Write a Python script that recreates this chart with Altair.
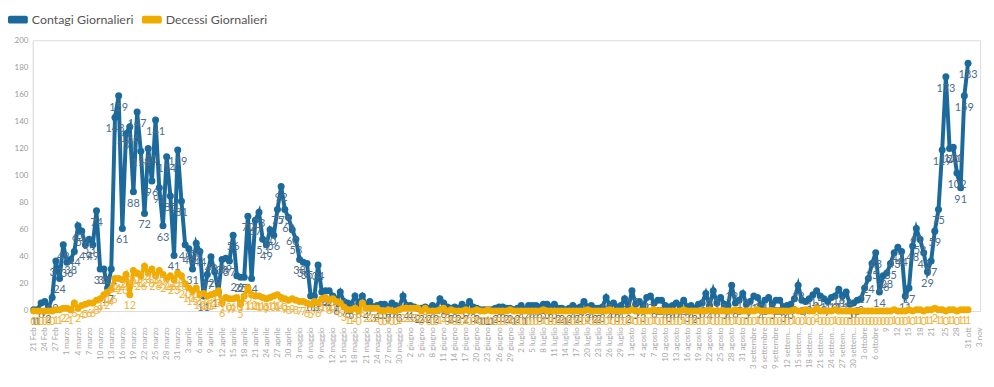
import datetime as dt
import altair as alt
import pandas as pd

# ---------------- data ----------------
start_date = dt.date(2020, 2, 21)

contagi = [
    1, 1, 6, 7, 2,
    10, 37, 24, 49, 36, 38, 44, 63, 59, 49, 53, 49, 74,
    31, 31, 17, 31,
    143, 159, 61, 131, 136, 88, 147, 118, 72, 120, 96, 141, 91, 63, 114, 85, 41, 119, 81, 49, 46, 31, 50, 44,
    11, 27, 40, 29, 14, 38, 39, 37, 56, 26, 25, 25,
    70, 24, 67, 73, 53, 49, 60, 56, 75, 92, 75, 69, 60, 53, 38, 36, 35, 11, 11, 34, 14, 15, 15, 11, 8, 14,
    7, 6, 5, 11, 6, 11, 4, 7, 3, 4, 5, 5, 3, 6, 4, 3, 11, 4, 4, 3,
    2, 2, 3, 2, 4, 2, 9, 6, 3, 2, 3, 2, 5, 2, 7, 3, 2, 1, 1, 1,
    1, 2, 3, 3, 2, 2, 1, 2, 4, 1, 4, 4, 4, 3, 5,
    5, 3, 5, 2, 2, 1, 2, 4, 2, 3, 7, 3, 4, 2, 2, 3, 10, 4, 6, 3,
    4, 9, 2, 15, 5, 7, 3, 10, 11, 6, 8, 8, 4, 3, 4, 6, 4, 8, 3, 4,
    2, 5, 6, 13, 4, 15, 6, 10, 5, 4, 19, 6, 8, 13, 5, 7, 11, 10, 4, 8,
    10, 5, 8, 8, 3, 4, 5,
    9, 19, 8, 7, 9, 12, 15, 11, 9, 7, 10, 11, 16, 11, 14, 5, 6, 8, 9,
    17, 24, 35, 43, 14, 26, 28, 35, 43, 47, 44, 11, 17, 48, 61, 53, 43, 29, 37, 59,
    75, 119, 173, 120, 121, 102, 91, 159, 183,
]

decessi = [
    0, 0, 0, 0, 0, 0, 1, 1, 2, 2, 1, 6, 2, 4, 5, 6, 6, 8, 9, 12, 14, 16,
    24, 24, 23, 27, 12, 30, 28, 26, 33, 28, 31, 26, 30, 27, 24, 26, 23, 28, 26, 20,
    17, 15, 17, 12, 13, 11, 12, 13, 15,
    6, 10, 9, 9, 10, 5, 11, 17, 12, 11, 11, 10, 9, 10, 11, 12, 10, 9, 8, 9,
    8, 7, 7, 6, 5, 7, 6, 9, 10, 8, 9, 7, 6,
    3, 1, 1, 2, 0, 6, 2, 2, 2, 2, 0, 0, 1, 0, 0, 1, 2, 2, 2, 2,
    2, 0, 2, 0, 0, 0, 1, 2, 0, 1, 0, 0, 0, 1, 0, 0, 1,
    0, 0, 1, 0, 0, 0, 0, 0, 1, 0,
    0, 0, 0, 0, 0, 0, 0, 1, 0, 0,
    0, 0, 0, 0, 0, 0, 0, 0, 0, 1,
    0, 0, 0, 0, 0, 1, 0, 0, 0, 0,
    0, 1, 0, 0, 0, 0, 0, 1, 0, 0,
    0, 0, 0, 0, 0, 1, 0, 0, 0, 0,
    0, 0, 1, 0, 0, 0, 0, 0, 0, 1,
    0, 0, 0, 0, 0, 1, 0, 0, 0, 0,
    0, 0, 0, 0, 0, 1, 0, 0, 1, 0,
    0, 2, 0, 0, 0, 0, 1, 0, 0, 0,
    0, 0, 0, 0, 0, 0, 0, 0, 0, 0,
    0, 0, 1, 0, 0, 0, 1, 0, 1, 1,
    0, 1, 1, 2, 1, 1, 0, 1, 1, 0,
    1, 1, 1,
]

series_names = ["Contagi Giornalieri", "Decessi Giornalieri"]
series_colors = ["#1c6a9b", "#f0ab00"]

tick_dates = [
    "2020/02/21", "2020/02/24", "2020/02/27",
    "2020/03/01", "2020/03/04", "2020/03/07", "2020/03/10", "2020/03/13", "2020/03/16",
    "2020/03/19", "2020/03/22", "2020/03/25", "2020/03/28", "2020/03/31",
    "2020/04/03", "2020/04/06", "2020/04/09", "2020/04/12", "2020/04/15", "2020/04/18",
    "2020/04/21", "2020/04/24", "2020/04/27", "2020/04/30",
    "2020/05/03", "2020/05/06", "2020/05/09", "2020/05/12", "2020/05/15", "2020/05/18",
    "2020/05/21", "2020/05/24", "2020/05/27", "2020/05/30",
    "2020/06/02", "2020/06/05", "2020/06/08", "2020/06/11", "2020/06/14", "2020/06/17",
    "2020/06/20", "2020/06/23", "2020/06/26", "2020/06/29",
    "2020/07/02", "2020/07/05", "2020/07/08", "2020/07/11", "2020/07/14", "2020/07/17",
    "2020/07/20", "2020/07/23", "2020/07/26", "2020/07/29",
    "2020/08/01", "2020/08/04", "2020/08/07", "2020/08/10", "2020/08/13", "2020/08/16",
    "2020/08/19", "2020/08/22", "2020/08/25", "2020/08/28", "2020/08/31",
    "2020/09/03", "2020/09/06", "2020/09/09", "2020/09/12", "2020/09/15", "2020/09/18",
    "2020/09/21", "2020/09/24", "2020/09/27", "2020/09/30",
    "2020/10/03", "2020/10/06", "2020/10/09", "2020/10/12", "2020/10/15", "2020/10/18",
    "2020/10/21", "2020/10/25", "2020/10/28", "2020/10/31", "2020/11/03",
]
tick_labels = [
    "21 Feb", "24 Feb", "27 Feb",
    "1 marzo", "4 marzo", "7 marzo", "10 marzo", "13 marzo", "16 marzo",
    "19 marzo", "22 marzo", "25 marzo", "28 marzo", "31 marzo",
    "3 aprile", "6 aprile", "9 aprile", "12 aprile", "15 aprile", "18 aprile",
    "21 aprile", "24 aprile", "27 aprile", "30 aprile",
    "3 maggio", "6 maggio", "9 maggio", "12 maggio", "15 maggio", "18 maggio",
    "21 maggio", "24 maggio", "27 maggio", "30 maggio",
    "2 giugno", "5 giugno", "8 giugno", "11 giugno", "14 giugno", "17 giugno",
    "20 giugno", "23 giugno", "26 giugno", "29 giugno",
    "2 luglio", "5 luglio", "8 luglio", "11 luglio", "14 luglio", "17 luglio",
    "20 luglio", "23 luglio", "26 luglio", "29 luglio",
    "1 agosto", "4 agosto", "7 agosto", "10 agosto", "13 agosto", "16 agosto",
    "19 agosto", "22 agosto", "25 agosto", "28 agosto", "31 agosto",
    "3 settembre", "6 settembre", "9 settembre", "12 settembre", "15 settembre", "18 settembre",
    "21 settembre", "24 settembre", "27 settembre", "30 settembre",
    "3 ottobre", "6 ottobre", "9", "12", "15", "18",
    "21", "25", "28", "31 ott", "3 nov",
]

y_ticks = [0, 20, 40, 60, 80, 100, 120, 140, 160, 180, 200]

# ---------------- table ----------------
dates = [(start_date + dt.timedelta(days=i)).strftime("%Y/%m/%d") for i in range(len(contagi))]
df = pd.DataFrame({"data": dates, series_names[0]: contagi, series_names[1]: decessi})


def to_dt(s):
    y, m, d = (int(p) for p in s.split("/"))
    return alt.DateTime(year=y, month=m, date=d)


label_expr = (
    "[" + ",".join("'" + l + "'" for l in tick_labels) + "]"
    "[indexof([" + ",".join("'" + d + "'" for d in tick_dates) + "], timeFormat(datum.value, '%Y/%m/%d'))]"
)

x_enc = alt.X(
    "data:T",
    title=None,
    scale=alt.Scale(
        domain=[
            alt.DateTime(year=2020, month=2, date=20, hours=18),
            alt.DateTime(year=2020, month=11, date=3, hours=6),
        ]
    ),
    axis=alt.Axis(
        values=[to_dt(d) for d in tick_dates],
        labelExpr=label_expr,
        labelAngle=270,
        labelFontSize=8,
        labelColor="#a8a8a8",
        labelPadding=16,
        labelLimit=44,
        labelOverlap=False,
        labelFlush=False,
        ticks=False,
        domain=False,
        grid=False,
    ),
)
y_enc = alt.Y(
    "valore:Q",
    title=None,
    scale=alt.Scale(domain=[0, 200], nice=False),
    axis=alt.Axis(
        values=y_ticks,
        labelFontSize=8,
        labelColor="#9a9a9a",
        labelPadding=5,
        ticks=False,
        domain=True,
        domainColor="#e4e4e4",
        grid=False,
    ),
)

legend_shape = (
    "M-0.8,-0.4L0.8,-0.4A0.2,0.2 0 0 1 1,-0.2L1,0.2A0.2,0.2 0 0 1 0.8,0.4"
    "L-0.8,0.4A0.2,0.2 0 0 1 -1,0.2L-1,-0.2A0.2,0.2 0 0 1 -0.8,-0.4Z"
)
color_scale = alt.Scale(domain=series_names, range=series_colors)
legend = alt.Legend(
    title=None,
    orient="none",
    legendX=-25,
    legendY=-31,
    direction="horizontal",
    symbolType=legend_shape,
    symbolSize=400,
    symbolStrokeWidth=0,
    labelFontSize=12.5,
    labelColor="#555555",
    labelFont="Lato",
    labelOffset=4,
    columnPadding=8,
)

base = alt.Chart(df).transform_fold(series_names, as_=["serie", "valore"])


def series_layers(name, color, label_color, label_dy):
    sub = base.transform_filter(alt.datum.serie == name)
    line = sub.mark_line(strokeWidth=4, color=color).encode(x=x_enc, y=y_enc)
    pts = sub.mark_circle(size=50, opacity=1).encode(
        x=x_enc,
        y=y_enc,
        color=alt.Color("serie:N", scale=color_scale, legend=legend),
    )
    txt = sub.mark_text(
        dy=label_dy, fontSize=11, font="Lato", color=label_color, baseline="middle"
    ).encode(x=x_enc, y=y_enc, text=alt.Text("valore:Q"))
    return [line, pts, txt]


layers = series_layers(series_names[0], series_colors[0], "#4d6d8b", 12) + series_layers(
    series_names[1], series_colors[1], "#f1b43a", 11
)

chart = (
    alt.layer(*layers)
    .properties(
        width=955,
        height=273,
        autosize=alt.AutoSizeParams(type="none"),
        padding={"left": 25, "top": 31, "right": 6, "bottom": 60},
    )
    .configure_view(stroke=None)
    .configure(font="Lato")
)

chart.save("out.html", embed_options={"renderer": "svg", "actions": False})
